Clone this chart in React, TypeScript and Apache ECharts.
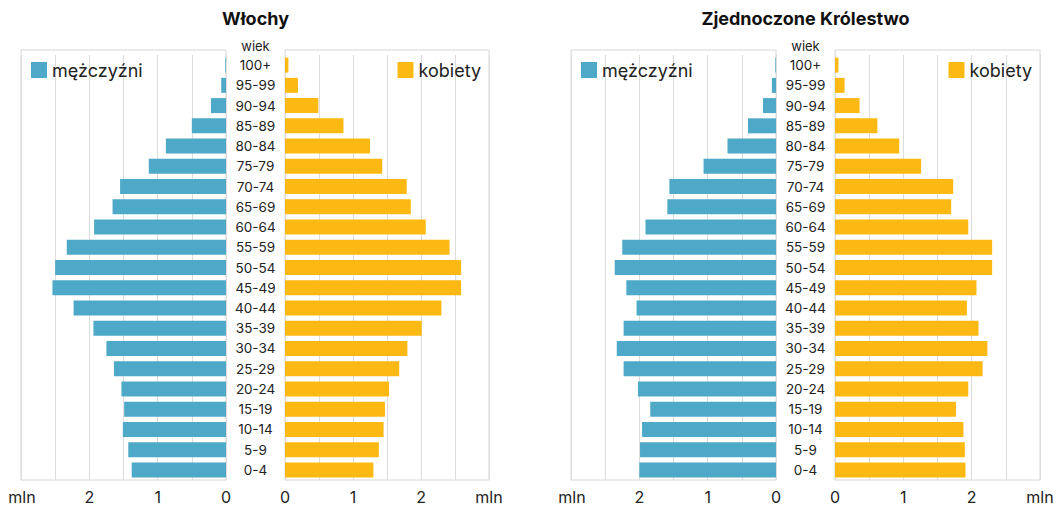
import { useEffect, useRef } from 'react';
import * as echarts from 'echarts';

const ages = ['100+', '95-99', '90-94', '85-89', '80-84', '75-79', '70-74', '65-69', '60-64', '55-59', '50-54', '45-49', '40-44', '35-39', '30-34', '25-29', '20-24', '15-19', '10-14', '5-9', '0-4'];

const itMale = [0.01, 0.07, 0.22, 0.5, 0.88, 1.13, 1.55, 1.66, 1.93, 2.33, 2.5, 2.54, 2.23, 1.94, 1.75, 1.64, 1.53, 1.49, 1.51, 1.43, 1.38];
const itFemale = [0.05, 0.19, 0.49, 0.86, 1.25, 1.43, 1.79, 1.85, 2.07, 2.42, 2.59, 2.59, 2.3, 2.01, 1.8, 1.68, 1.53, 1.47, 1.45, 1.38, 1.3];
const ukMale = [0.01, 0.06, 0.19, 0.41, 0.71, 1.06, 1.56, 1.59, 1.91, 2.25, 2.36, 2.19, 2.04, 2.23, 2.33, 2.23, 2.02, 1.84, 1.96, 1.99, 2.0];
const ukFemale = [0.05, 0.14, 0.36, 0.62, 0.94, 1.26, 1.73, 1.7, 1.95, 2.3, 2.3, 2.07, 1.93, 2.1, 2.23, 2.16, 1.95, 1.77, 1.88, 1.9, 1.91];

const BLUE = '#4ea9c8';
const YELLOW = '#fdb913';
const FONT = 'Inter, Roboto, sans-serif';

export default function App() {
  const ref = useRef<HTMLDivElement>(null);

  useEffect(() => {
    document.body.style.margin = '0';
    if (!ref.current) return;
    const chart = echarts.init(ref.current, undefined, { renderer: 'svg' });

    const panels = [
      { title: 'Włochy', male: itMale, female: itFemale, mL: 21, mR: 226, fL: 285, fR: 489 },
      { title: 'Zjednoczone Królestwo', male: ukMale, female: ukFemale, mL: 571, mR: 776, fL: 835, fR: 1040 },
    ];
    const top = 55;
    const bottom = 514 - 480;
    const grids: any[] = [];
    const xAxes: any[] = [];
    const yAxes: any[] = [];
    const series: any[] = [];
    const legends: any[] = [];
    const graphic: any[] = [];

    const tickFmt = (v: number) => (v === 3 || v % 1 !== 0 ? '' : String(v));

    panels.forEach((p, i) => {
      const gm = i * 2;
      const gf = i * 2 + 1;
      grids.push({ left: p.mL, width: p.mR - p.mL, top, bottom });
      grids.push({ left: p.fL, width: p.fR - p.fL, top, bottom });
      [gm, gf].forEach((g) => {
        xAxes.push({
          type: 'value',
          gridIndex: g,
          min: 0,
          max: 3,
          interval: 0.5,
          inverse: g === gm,
          axisLine: { show: false },
          axisTick: { show: false },
          splitLine: { lineStyle: { color: '#dcdcdc' } },
          axisLabel: { formatter: tickFmt, color: '#222', fontSize: 16, fontFamily: FONT, margin: 9, showMaxLabel: true, showMinLabel: true },
        });
        yAxes.push({
          type: 'category',
          gridIndex: g,
          data: ages,
          inverse: true,
          axisLine: { show: false },
          axisTick: { show: false },
          axisLabel: g === gf
            ? { show: true, align: 'center', margin: p.fL - (p.mR + p.fL) / 2, color: '#222', fontSize: 13.5, fontFamily: FONT }
            : { show: false },
        });
      });
      series.push({
        type: 'bar', name: 'mężczyźni', xAxisIndex: gm, yAxisIndex: gm, data: p.male,
        barWidth: 15, itemStyle: { color: BLUE },
      });
      series.push({
        type: 'bar', name: 'kobiety', xAxisIndex: gf, yAxisIndex: gf, data: p.female,
        barWidth: 15, itemStyle: { color: YELLOW },
      });
      const legendCommon = {
        itemWidth: 16, itemHeight: 16, itemGap: 8, icon: 'rect',
        textStyle: { fontSize: 18, color: '#222', fontFamily: FONT }, selectedMode: false,
      };
      legends.push({ ...legendCommon, data: ['mężczyźni'], left: p.mL + 5, top: 56 });
      legends.push({ ...legendCommon, data: ['kobiety'], right: 1060 - p.fR + 3, top: 56 });

      const cx = (p.mR + p.fL) / 2;
      graphic.push(
        { type: 'text', x: cx, y: 18, style: { text: p.title, font: `bold 18px ${FONT}`, fill: '#111', textAlign: 'center', textVerticalAlign: 'middle' } },
        { type: 'text', x: cx, y: 46, style: { text: 'wiek', font: `13px ${FONT}`, fill: '#222', textAlign: 'center', textVerticalAlign: 'middle' } },
        { type: 'text', x: p.mL + 1, y: 497, style: { text: 'mln', font: `16px ${FONT}`, fill: '#222', textAlign: 'center', textVerticalAlign: 'middle' } },
        { type: 'text', x: p.fR, y: 497, style: { text: 'mln', font: `16px ${FONT}`, fill: '#222', textAlign: 'center', textVerticalAlign: 'middle' } },
        { type: 'rect', shape: { x: p.mL, y: 50, width: p.mR - p.mL, height: 430 }, style: { fill: 'none', stroke: '#d6d6d6', lineWidth: 1 }, silent: true },
        { type: 'rect', shape: { x: p.fL, y: 50, width: p.fR - p.fL, height: 430 }, style: { fill: 'none', stroke: '#d6d6d6', lineWidth: 1 }, silent: true },
      );
    });

    chart.setOption({
      animation: false,
      backgroundColor: '#fff',
      textStyle: { fontFamily: FONT },
      grid: grids,
      xAxis: xAxes,
      yAxis: yAxes,
      legend: legends,
      series,
      graphic,
    });

    return () => chart.dispose();
  }, []);

  return <div ref={ref} style={{ width: 1060, height: 514 }} />;
}
